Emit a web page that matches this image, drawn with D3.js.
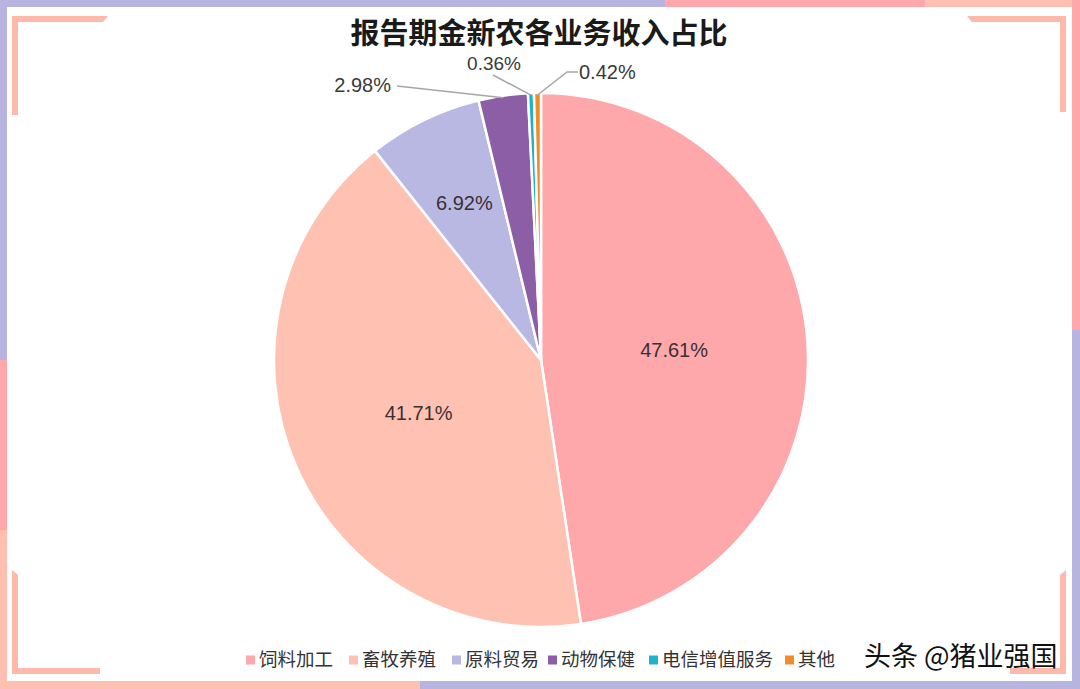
<!DOCTYPE html>
<html>
<head>
<meta charset="utf-8">
<script src="https://cdn.jsdelivr.net/npm/d3@7"></script>
<style>
  html, body { margin: 0; padding: 0; background: #fff; }
  svg { display: block; }
</style>
</head>
<body>
<svg id="chart" width="1080" height="689"></svg>
<script>
// ---- data ----
const categories = ["饲料加工", "畜牧养殖", "原料贸易", "动物保健", "电信增值服务", "其他"];
const values = [47.61, 41.71, 6.92, 2.98, 0.36, 0.42];
const labels = ["47.61%", "41.71%", "6.92%", "2.98%", "0.36%", "0.42%"];
const colors = ["#FFA8AB", "#FFC1B1", "#B9B8E2", "#8B5EA6", "#1FB3CB", "#F18C28"];
const title = "报告期金新农各业务收入占比";
const credit = "头条 @猪业强国";

const W = 1080, H = 689;
const svg = d3.select("#chart");
const CJK = "'Noto Sans CJK SC', 'Noto Sans', sans-serif";
const NUM = "'Liberation Sans', Arial, sans-serif";

// ---- frame decoration ----
const frame = svg.append("g");
const bw = 7;
frame.append("rect").attr("x", 0).attr("y", 0).attr("width", 665).attr("height", bw).attr("fill", "#B7B4E0");
frame.append("rect").attr("x", 665).attr("y", 0).attr("width", 260).attr("height", bw).attr("fill", "#FFA7AA");
frame.append("rect").attr("x", 925).attr("y", 0).attr("width", 155).attr("height", bw).attr("fill", "#FFC0B2");
frame.append("rect").attr("x", W - 8).attr("y", 0).attr("width", 8).attr("height", 330).attr("fill", "#FFA7AA");
frame.append("rect").attr("x", W - 8).attr("y", 330).attr("width", 8).attr("height", H - 330).attr("fill", "#B7B4E0");
frame.append("rect").attr("x", 0).attr("y", 0).attr("width", bw).attr("height", 360).attr("fill", "#B7B4E0");
frame.append("rect").attr("x", 0).attr("y", 360).attr("width", bw).attr("height", 170).attr("fill", "#FFA7AA");
frame.append("rect").attr("x", 0).attr("y", 530).attr("width", bw).attr("height", H - 530).attr("fill", "#FFC0B2");
frame.append("rect").attr("x", 0).attr("y", H - 8).attr("width", 420).attr("height", 8).attr("fill", "#FFC0B2");
frame.append("rect").attr("x", 420).attr("y", H - 8).attr("width", W - 420).attr("height", 8).attr("fill", "#B7B4E0");
const bc = "#FFB9AA";
frame.append("path").attr("d", "M12,115 L12,16 L108,16 L103,22 L18,22 L18,115 Z").attr("fill", bc);
frame.append("path").attr("d", "M1066,112 L1066,16 L967,16 L972,22 L1060,22 L1060,112 Z").attr("fill", bc);
frame.append("path").attr("d", "M12,570 L12,674 L100,674 L100,668 L18,668 L18,575 Z").attr("fill", bc);
frame.append("path").attr("d", "M1066,570 L1066,674 L1010,674 L1010,668 L1060,668 L1060,575 Z").attr("fill", bc);

// ---- title ----
svg.append("text")
  .attr("x", 539).attr("y", 44)
  .attr("text-anchor", "middle")
  .attr("font-family", CJK)
  .attr("font-weight", "bold")
  .attr("font-size", 29)
  .attr("fill", "#1a1a1a")
  .text(title);

// ---- pie ----
const cx = 541, cy = 360, R = 267;
const data = categories.map((c, i) => ({ name: c, value: values[i], label: labels[i], color: colors[i] }));
const pie = d3.pie().sort(null).value(d => d.value).startAngle(0).endAngle(2 * Math.PI);
const arcs = pie(data);
const arc = d3.arc().innerRadius(0).outerRadius(R);

const g = svg.append("g").attr("transform", `translate(${cx},${cy})`);
g.selectAll("path.slice")
  .data(arcs)
  .enter().append("path")
  .attr("class", "slice")
  .attr("d", arc)
  .attr("fill", d => d.data.color)
  .attr("stroke", "#fff")
  .attr("stroke-width", 2.5)
  .attr("stroke-linejoin", "round");

const insideR = { 0: 0.5, 1: 0.5, 2: 0.655 };
arcs.forEach((d, i) => {
  if (insideR[i] === undefined) return;
  const a = (d.startAngle + d.endAngle) / 2;
  const r = R * insideR[i];
  g.append("text")
    .attr("x", r * Math.sin(a))
    .attr("y", -r * Math.cos(a))
    .attr("dy", "0.35em")
    .attr("text-anchor", "middle")
    .attr("font-family", NUM)
    .attr("font-size", 20)
    .attr("fill", "#3a3034")
    .text(d.data.label);
});

const outside = {
  3: { pts: [[-144, -274]], tx: -150, ty: -275, anchor: "end", fs: 20 },
  4: { pts: [[-48, -285]], tx: -47, ty: -297, anchor: "middle", fs: 19 },
  5: { pts: [[26, -288], [37, -288]], tx: 38, ty: -288, anchor: "start", fs: 20 }
};
const line = d3.line();
arcs.forEach((d, i) => {
  const o = outside[i];
  if (!o) return;
  const a = (d.startAngle + d.endAngle) / 2;
  const p0 = [ (R - 2) * Math.sin(a), -(R - 2) * Math.cos(a) ];
  const pts = [p0].concat(o.pts);
  g.append("path")
    .attr("d", line(pts))
    .attr("fill", "none")
    .attr("stroke", "#a6a6a6")
    .attr("stroke-width", 1.5);
  g.append("text")
    .attr("x", o.tx)
    .attr("y", o.ty)
    .attr("dy", "0.35em")
    .attr("text-anchor", o.anchor)
    .attr("font-family", NUM)
    .attr("font-size", o.fs)
    .attr("fill", "#3a3a3a")
    .text(d.data.label);
});

// ---- legend ----
const legendX = [246, 349, 452, 548, 649, 785];
const legend = svg.append("g");
data.forEach((d, i) => {
  const lg = legend.append("g").attr("transform", `translate(${legendX[i]},660)`);
  lg.append("rect").attr("x", 0).attr("y", -4.5).attr("width", 9).attr("height", 9).attr("fill", d.color);
  lg.append("text")
    .attr("x", 13).attr("y", 0).attr("dy", "0.35em")
    .attr("font-family", CJK)
    .attr("font-size", 18.5)
    .attr("fill", "#333")
    .text(d.name);
});

// ---- credit ----
svg.append("text")
  .attr("x", 864).attr("y", 657)
  .attr("dy", "0.35em")
  .attr("font-family", CJK)
  .attr("font-size", 27)
  .attr("fill", "#111")
  .text(credit);
</script>
</body>
</html>
